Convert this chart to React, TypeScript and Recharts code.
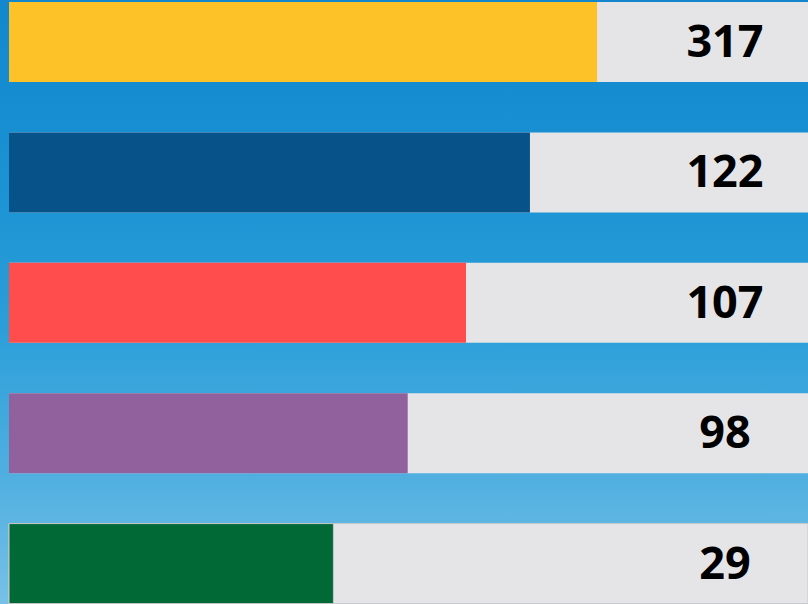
import { BarChart, Bar, XAxis, YAxis, Cell, LabelList } from "recharts";

const items = ["item1", "item2", "item3", "item4", "item5"];
const values = [317, 122, 107, 98, 29];
// how full each bar is drawn (percent of the track)
const fillPercent = [73.6, 65.2, 57.2, 49.9, 40.6];
const COLORS = ["#fdc228", "#08528a", "#ff4d4d", "#91619e", "#016935"];

const data = items.map((name, i) => ({
  name,
  value: values[i],
  fill: fillPercent[i],
  color: COLORS[i],
}));

const LABEL_X = 725;

function ValueLabel(props: any) {
  const { y, height, value } = props;
  return (
    <text
      x={LABEL_X}
      y={y + height / 2 + 15}
      textAnchor="middle"
      fontFamily="'Open Sans', sans-serif"
      fontWeight={700}
      fontSize={45}
      fill="#000"
    >
      {value}
    </text>
  );
}

export default function App() {
  return (
    <div
      style={{
        position: "absolute",
        left: 0,
        top: 0,
        width: 808,
        height: 604,
        overflow: "hidden",
        background:
          "linear-gradient(to bottom, #1287ce 0%, #1a92d3 30%, #2c9fd9 55%, #52b0e0 80%, #78c0e7 100%)",
      }}
    >
      <div style={{ position: "absolute", left: 0, top: -23 }}>
        <BarChart
          width={808}
          height={652}
          data={data}
          layout="vertical"
          margin={{ top: 0, right: 0, bottom: 0, left: 9 }}
          barSize={80}
        >
          <XAxis type="number" domain={[0, 100]} hide />
          <YAxis type="category" dataKey="name" hide />
          <Bar
            dataKey="fill"
            isAnimationActive={false}
            background={{ fill: "#e5e5e7" }}
          >
            {data.map((entry, index) => (
              <Cell
                key={`cell-${index}`}
                fill={entry.color}
                stroke={index === 4 ? "#c9c9c9" : "none"}
                strokeWidth={1}
              />
            ))}
            <LabelList dataKey="value" content={<ValueLabel />} />
          </Bar>
        </BarChart>
      </div>
    </div>
  );
}
